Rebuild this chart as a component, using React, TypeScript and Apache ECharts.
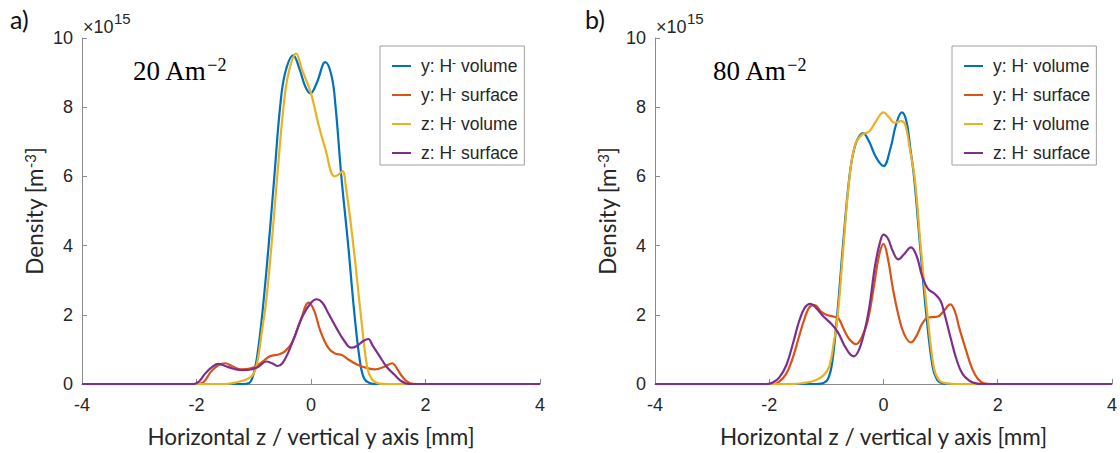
import React, { useEffect, useRef } from "react";
import * as echarts from "echarts";

// ---------- data (x in mm, density in 1e15 m^-3) ----------
const xTicks = [-4, -2, 0, 2, 4];
const seriesNames = ["y: H- volume", "y: H- surface", "z: H- volume", "z: H- surface"];
const seriesColors = ["#0072BD", "#D95319", "#EDB120", "#7E2F8E"];
const panelLabels = ["a)", "b)"];
const currentLabels = ["20 Am", "80 Am"];

// panel a) 20 A/m^2
const aYVolume = [
  [-4, 0], [-1.2, 0], [-1.08, 0.03], [-1.02, 0.2], [-0.96, 0.6], [-0.9, 1.3], [-0.84, 2.2],
  [-0.74, 4], [-0.64, 6], [-0.54, 8], [-0.45, 9.0], [-0.31, 9.5], [-0.2, 9.1], [-0.1, 8.6],
  [-0.01, 8.4], [0.1, 8.7], [0.25, 9.3], [0.36, 8.9], [0.43, 8.0], [0.53, 6], [0.65, 4],
  [0.76, 2], [0.86, 0.6], [0.93, 0.15], [1.02, 0.03], [1.15, 0], [4, 0],
];
const aYSurface = [
  [-4, 0], [-2.0, 0], [-1.88, 0.05], [-1.75, 0.35], [-1.62, 0.54], [-1.5, 0.6], [-1.38, 0.52],
  [-1.22, 0.42], [-1.05, 0.45], [-0.88, 0.6], [-0.72, 0.8], [-0.55, 0.86], [-0.45, 0.95],
  [-0.33, 1.2], [-0.18, 1.85], [-0.04, 2.35], [0.06, 2.1], [0.16, 1.55], [0.3, 1.05],
  [0.42, 0.88], [0.54, 0.84], [0.66, 0.7], [0.82, 0.55], [1.0, 0.45], [1.12, 0.42],
  [1.28, 0.5], [1.42, 0.6], [1.5, 0.45], [1.6, 0.2], [1.72, 0.03], [1.85, 0], [4, 0],
];
const aZVolume = [
  [-4, 0], [-1.5, 0], [-1.3, 0.05], [-1.1, 0.15], [-1.0, 0.3], [-0.93, 0.7], [-0.86, 1.5],
  [-0.79, 2.3], [-0.69, 4], [-0.59, 6], [-0.48, 8], [-0.39, 9.0], [-0.26, 9.55], [-0.16, 9.1],
  [0, 8.4], [0.13, 7.5], [0.25, 6.8], [0.41, 6.0], [0.48, 6.05], [0.55, 6.15], [0.61, 5.7],
  [0.74, 4], [0.87, 2], [0.98, 0.5], [1.06, 0.15], [1.18, 0.02], [1.35, 0], [4, 0],
];
const aZSurface = [
  [-4, 0], [-2.05, 0], [-1.95, 0.08], [-1.85, 0.3], [-1.72, 0.5], [-1.62, 0.58], [-1.5, 0.52],
  [-1.35, 0.44], [-1.2, 0.4], [-1.05, 0.42], [-0.92, 0.5], [-0.78, 0.65], [-0.68, 0.6],
  [-0.58, 0.52], [-0.5, 0.6], [-0.4, 0.9], [-0.28, 1.4], [-0.15, 1.95], [0, 2.35], [0.1, 2.45],
  [0.2, 2.35], [0.3, 2.05], [0.45, 1.6], [0.58, 1.25], [0.7, 1.05], [0.8, 1.1], [0.92, 1.25],
  [1.0, 1.3], [1.08, 1.1], [1.2, 0.8], [1.32, 0.5], [1.45, 0.28], [1.58, 0.08], [1.72, 0], [4, 0],
];

// panel b) 80 A/m^2
const bYVolume = [
  [-4, 0], [-1.2, 0], [-1.05, 0.03], [-0.97, 0.15], [-0.9, 0.6], [-0.81, 2], [-0.71, 4],
  [-0.61, 5.8], [-0.54, 6.6], [-0.46, 7.05], [-0.36, 7.25], [-0.25, 7.0], [-0.13, 6.55],
  [0, 6.3], [0.12, 6.8], [0.22, 7.5], [0.32, 7.85], [0.4, 7.6], [0.47, 6.8], [0.54, 5.9],
  [0.64, 4], [0.75, 2], [0.86, 0.5], [0.94, 0.12], [1.04, 0.02], [1.2, 0], [4, 0],
];
const bYSurface = [
  [-4, 0], [-1.95, 0], [-1.84, 0.05], [-1.7, 0.3], [-1.58, 0.8], [-1.49, 1.3], [-1.38, 1.9],
  [-1.28, 2.25], [-1.2, 2.28], [-1.1, 2.1], [-1.0, 2.0], [-0.88, 1.95], [-0.79, 1.9],
  [-0.7, 1.6], [-0.6, 1.3], [-0.48, 1.15], [-0.38, 1.35], [-0.28, 1.8], [-0.17, 2.8],
  [-0.08, 3.7], [0, 4.05], [0.08, 3.6], [0.16, 2.8], [0.26, 2.0], [0.36, 1.45], [0.48, 1.2],
  [0.58, 1.4], [0.68, 1.75], [0.78, 1.92], [0.95, 1.95], [1.05, 2.1], [1.17, 2.3], [1.25, 2.1],
  [1.33, 1.6], [1.45, 0.95], [1.55, 0.45], [1.65, 0.15], [1.76, 0.02], [1.9, 0], [4, 0],
];
const bZVolume = [
  [-4, 0], [-1.6, 0], [-1.4, 0.03], [-1.2, 0.1], [-1.05, 0.25], [-0.95, 0.5], [-0.87, 1.2],
  [-0.8, 2], [-0.7, 4], [-0.6, 5.9], [-0.5, 6.9], [-0.38, 7.2], [-0.25, 7.3], [-0.13, 7.6],
  [0, 7.85], [0.1, 7.7], [0.19, 7.55], [0.31, 7.6], [0.38, 7.5], [0.46, 6.8], [0.55, 5.9],
  [0.65, 4], [0.77, 2], [0.88, 0.5], [0.97, 0.12], [1.1, 0.02], [1.3, 0], [4, 0],
];
const bZSurface = [
  [-4, 0], [-2.05, 0], [-1.93, 0.05], [-1.82, 0.2], [-1.7, 0.55], [-1.58, 1.2], [-1.48, 1.8],
  [-1.38, 2.2], [-1.28, 2.32], [-1.18, 2.2], [-1.05, 1.95], [-0.92, 1.75], [-0.8, 1.5],
  [-0.68, 1.1], [-0.58, 0.85], [-0.52, 0.8], [-0.44, 0.95], [-0.35, 1.4], [-0.25, 2.2],
  [-0.15, 3.4], [-0.06, 4.1], [0, 4.32], [0.08, 4.2], [0.16, 3.85], [0.26, 3.6], [0.36, 3.75],
  [0.48, 3.95], [0.58, 3.7], [0.68, 3.1], [0.78, 2.75], [0.9, 2.6], [1.0, 2.4], [1.08, 1.95],
  [1.18, 1.3], [1.28, 0.7], [1.38, 0.3], [1.5, 0.1], [1.62, 0.02], [1.75, 0], [4, 0],
];

const panels = [
  [aYVolume, aYSurface, aZVolume, aZSurface],
  [bYVolume, bYSurface, bZVolume, bZSurface],
];

// ---------- styling ----------
const SANS = "'Liberation Sans', Arial, sans-serif";
const CAL = "Lato, 'Open Sans', sans-serif";
const SERIF = "'Liberation Serif', 'Times New Roman', serif";
const AXIS_GRAY = "#8a8a8a";
const TEXT = "#262626";

const grids = [
  { left: 82, width: 458, top: 38, height: 347 },
  { left: 655, width: 457, top: 38, height: 347 },
];
const legendLefts = [380, 952];

function legendFormatter(name: string) {
  const [pre, post] = name.split("H-");
  return `{t|${pre}H}{s|-}{t|${post}}`;
}

export default function App() {
  const ref = useRef<HTMLDivElement>(null);
  useEffect(() => {
    if (!ref.current) return;
    const chart = echarts.init(ref.current, null, { renderer: "svg" });

    const xAxes = grids.map((_, i) => ({
      type: "value",
      gridIndex: i,
      min: xTicks[0],
      max: xTicks[xTicks.length - 1],
      interval: 2,
      axisLine: { show: true, onZero: false, lineStyle: { color: AXIS_GRAY, width: 1 } },
      axisTick: { show: true, inside: true, length: 5, lineStyle: { color: AXIS_GRAY } },
      axisLabel: { color: TEXT, fontFamily: SANS, fontSize: 18, margin: 12 },
      splitLine: { show: false },
      name: "Horizontal z / vertical y axis [mm]",
      nameLocation: "middle",
      nameGap: 41,
      nameTextStyle: { color: TEXT, fontFamily: CAL, fontSize: 22.5 },
    }));
    const yAxes = grids.map((_, i) => ({
      type: "value",
      gridIndex: i,
      min: 0,
      max: 10,
      interval: 2,
      axisLine: { show: true, onZero: false, lineStyle: { color: AXIS_GRAY, width: 1 } },
      axisTick: { show: true, inside: true, length: 5, lineStyle: { color: AXIS_GRAY } },
      axisLabel: { color: TEXT, fontFamily: SANS, fontSize: 18, margin: 9 },
      splitLine: { show: false },
      name: "{t|Density [m}{s|-3}{t|]}",
      nameLocation: "middle",
      nameRotate: 90,
      nameGap: 36,
      nameTextStyle: {
        color: TEXT,
        rich: {
          t: { fontFamily: CAL, fontSize: 22.5, color: TEXT, lineHeight: 24 },
          s: { fontFamily: CAL, fontSize: 15, color: TEXT, lineHeight: 12, verticalAlign: "top" },
        },
      },
    }));

    const series: any[] = [];
    panels.forEach((panel, p) => {
      panel.forEach((data, k) => {
        series.push({
          type: "line",
          name: seriesNames[k],
          xAxisIndex: p,
          yAxisIndex: p,
          data,
          showSymbol: false,
          smooth: 0.4,
          lineStyle: { color: seriesColors[k], width: 2.2 },
          itemStyle: { color: seriesColors[k] },
          z: 2 + k,
        });
      });
    });

    const legends = legendLefts.map((left) => ({
      orient: "vertical",
      left,
      top: 46,
      width: 148,
      padding: [11, 6, 3, 12],
      itemGap: 11,
      itemWidth: 19,
      itemHeight: 2,
      icon: "rect",
      borderColor: "#a0a0a0",
      borderWidth: 1,
      backgroundColor: "#ffffff",
      data: seriesNames,
      selectedMode: false,
      formatter: legendFormatter,
      textStyle: {
        padding: [0, 0, 0, 5],
        rich: {
          t: { fontFamily: SANS, fontSize: 17.5, color: TEXT, lineHeight: 18 },
          s: { fontFamily: SANS, fontSize: 12, color: TEXT, lineHeight: 10, verticalAlign: "top" },
        },
      },
    }));

    const graphic: any[] = [];
    grids.forEach((g, i) => {
      const lx = i === 0 ? 10 : 585;
      graphic.push({
        type: "text",
        left: lx,
        top: 6,
        style: { text: panelLabels[i], fontFamily: CAL, fontSize: 25, fill: "#111" },
      });
      graphic.push({
        type: "text",
        x: g.left + 1,
        y: 27,
        style: {
          text: "×10",
          fontFamily: SANS,
          fontSize: 18,
          fill: TEXT,
          align: "left",
          verticalAlign: "middle",
        },
      });
      graphic.push({
        type: "text",
        x: g.left + 32,
        y: 18,
        style: {
          text: "15",
          fontFamily: SANS,
          fontSize: 15,
          fill: TEXT,
          align: "left",
          verticalAlign: "middle",
        },
      });
      graphic.push({
        type: "text",
        left: g.left + (i === 0 ? 51 : 58),
        top: 56,
        style: {
          text: `{t|${currentLabels[i]}}{s|−2}`,
          rich: {
            t: { fontFamily: SERIF, fontSize: 27, fill: "#000", lineHeight: 30 },
            s: { fontFamily: SERIF, fontSize: 18, fill: "#000", lineHeight: 16, verticalAlign: "top" },
          },
        },
      });
    });

    chart.setOption({
      animation: false,
      backgroundColor: "#ffffff",
      grid: grids.map((g) => ({ ...g, containLabel: false })),
      xAxis: xAxes,
      yAxis: yAxes,
      legend: legends,
      series,
      graphic,
    });
    return () => chart.dispose();
  }, []);
  return (
    <div
      ref={ref}
      style={{ position: "absolute", left: 0, top: 0, width: 1120, height: 453, background: "#fff" }}
    />
  );
}
